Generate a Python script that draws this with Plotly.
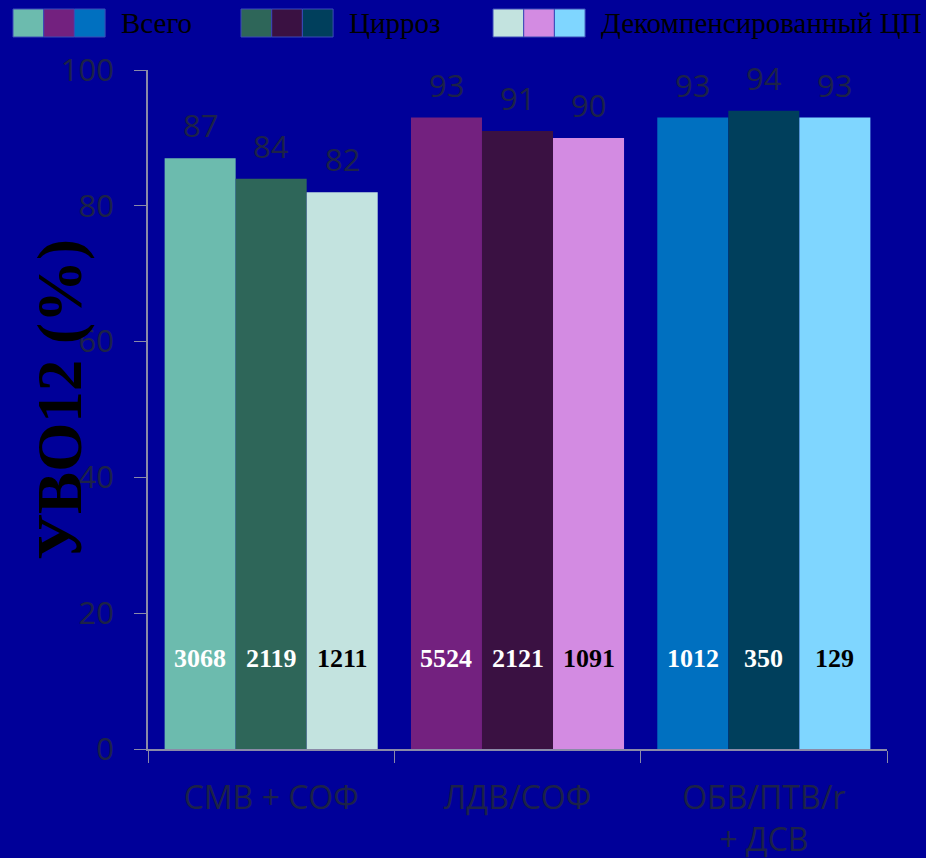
import plotly.graph_objects as go

# Regimens and SVR12 rates (%) by patient subgroup
categories = ["СМВ + СОФ", "ЛДВ/СОФ", "ОБВ/ПТВ/r<br>+ ДСВ"]
series_names = ["Всего", "Цирроз", "Декомпенсированный ЦП"]
svr_total = [87, 93, 93]
svr_cirrhosis = [84, 91, 94]
svr_decomp = [82, 90, 93]

# Number of patients per bar
n_total = [3068, 5524, 1012]
n_cirrhosis = [2119, 2121, 350]
n_decomp = [1211, 1091, 129]

# Colours: one list per series, one entry per regimen
colors_total = ["#6cbbae", "#73217f", "#0070c0"]
colors_cirrhosis = ["#2e6659", "#3a1142", "#003f5c"]
colors_decomp = ["#c3e3df", "#d38be2", "#7fd6ff"]
count_font_colors = ["white", "white", "black"]

BG = "#000099"
DIM = "#1c2248"
values = [svr_total, svr_cirrhosis, svr_decomp]
counts = [n_total, n_cirrhosis, n_decomp]
colors = [colors_total, colors_cirrhosis, colors_decomp]

BARGAP = 0.135
bar_w = (1 - BARGAP) / 3
offsets = [-bar_w, 0.0, bar_w]

fig = go.Figure()
for name, vals, cols in zip(series_names, values, colors):
    fig.add_trace(go.Bar(
        x=categories, y=vals, name=name,
        marker=dict(color=cols, line=dict(width=0)),
        showlegend=False, hoverinfo="y",
    ))

annotations = []
for s, (vals, ns) in enumerate(zip(values, counts)):
    for i, (v, n) in enumerate(zip(vals, ns)):
        # percentage above each bar
        annotations.append(dict(
            x=i + offsets[s], y=v, xref="x", yref="y", text=str(v),
            showarrow=False, yanchor="bottom", yshift=10,
            font=dict(family="Open Sans", size=31, color=DIM)))
        # patient count near the base of each bar
        annotations.append(dict(
            x=i + offsets[s], y=0, xref="x", yref="y", text=f"<b>{n}</b>",
            showarrow=False, yanchor="middle", yshift=91,
            font=dict(family="Liberation Serif", size=26,
                      color=count_font_colors[s])))

# y-axis title
annotations.append(dict(
    x=-0.118, y=0.515, xref="paper", yref="paper", text="<b>УВО12 (%)</b>",
    textangle=-90, showarrow=False, xanchor="center", yanchor="middle",
    font=dict(family="Liberation Serif", size=63, color="black")))

# Legend: three colour swatches per series, followed by its name
W, H = 926, 858
ml, mr, mt, mb = 148, 39, 70, 109
pw, ph = W - ml - mr, H - mt - mb

def px_x(p):
    return (p - ml) / pw

def px_y(p):
    return (H - mb - p) / ph

shapes = []
legend_starts = [13, 241, 493]
sw_w, sw_top, sw_bot = 30.7, 9, 37
for s, (x0, name) in enumerate(zip(legend_starts, series_names)):
    for k in range(3):
        shapes.append(dict(
            type="rect", xref="paper", yref="paper",
            x0=px_x(x0 + k * sw_w), x1=px_x(x0 + (k + 1) * sw_w),
            y0=px_y(sw_bot), y1=px_y(sw_top),
            fillcolor=colors[s][k], line=dict(color="#3a4ab8", width=1)))
    annotations.append(dict(
        x=px_x(x0 + 3 * sw_w + 14), y=px_y(23), xref="paper", yref="paper",
        text=name, showarrow=False, xanchor="left", yanchor="middle",
        font=dict(family="Liberation Serif", size=29, color="black")))

fig.update_layout(
    width=W, height=H,
    margin=dict(l=ml, r=mr, t=mt, b=mb),
    paper_bgcolor=BG, plot_bgcolor=BG,
    barmode="group", bargap=BARGAP, bargroupgap=0,
    annotations=annotations, shapes=shapes,
    font=dict(family="Open Sans", color=DIM),
)
fig.update_xaxes(
    automargin=False,
    showgrid=False, showline=True, linecolor="#8a8aa8", linewidth=1.5,
    ticks="outside", tickson="boundaries", ticklen=12, tickcolor="#8a8aa8",
    ticklabelstandoff=20,
    tickfont=dict(family="Open Sans", size=32, color=DIM),
)
fig.update_yaxes(
    automargin=False,
    range=[0, 100], dtick=20, showgrid=False, zeroline=False,
    showline=True, linecolor="#8a8aa8", linewidth=1.5,
    ticks="outside", ticklen=12, tickcolor="#8a8aa8",
    ticklabelstandoff=14,
    tickfont=dict(family="Open Sans", size=31, color=DIM),
)

fig.write_html("out.html")
